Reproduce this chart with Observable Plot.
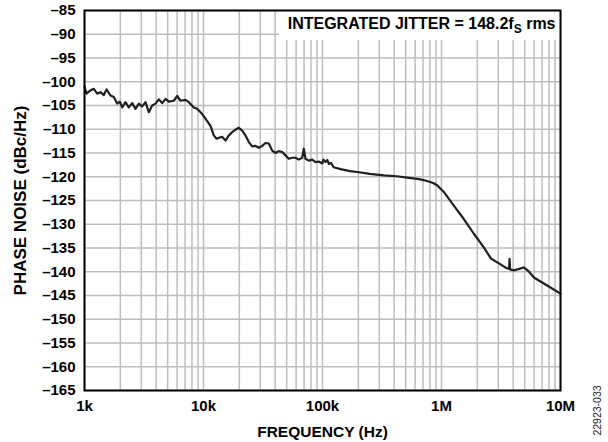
<!DOCTYPE html>
<html>
<head>
<meta charset="utf-8">
<script src="https://cdn.jsdelivr.net/npm/d3@7"></script>
<script src="https://cdn.jsdelivr.net/npm/@observablehq/plot@0.6"></script>
<style>
  html, body { margin: 0; padding: 0; background: #fff; }
</style>
</head>
<body>
<div id="chart"></div>
<script>
// ---- data ----
const freqHz = [
  1000, 1039, 1123, 1197, 1278, 1363, 1453, 1531, 1654, 1763,
  1883, 1980, 2074, 2211, 2357, 2517, 2683, 2860, 3054, 3255,
  3470, 3706, 3951, 4211, 4497, 4794, 5110, 5628, 6012, 6409,
  7061, 7522, 8287, 8855, 9752, 10740, 11450, 12210, 12860, 13450,
  14360, 15310, 16320, 17430, 18580, 19800, 21150, 22540, 24030, 25660,
  27350, 29150, 31130, 33190, 35380, 37780, 40270, 42940, 45850, 48870,
  52110, 55640, 59310, 63220, 67510, 69640, 71970, 76710, 81920, 87340,
  93090, 99400, 102000, 106000, 110000, 113000, 118000, 124000, 142000, 170000,
  196000, 250000, 328000, 420000, 515000, 650000, 758000, 850000, 920000, 1045000,
  1270000, 1540000, 1870000, 2260000, 2600000, 3160000, 3500000, 3700000, 3730000, 3770000,
  4050000, 4500000, 4920000, 5400000, 5970000, 7730000, 10000000
];
const phaseNoise = [
  -101.0, -102.5, -101.8, -101.5, -102.5, -102.2, -102.8, -101.6, -102.9, -103.2,
  -104.6, -104.2, -105.4, -104.3, -105.4, -104.5, -105.7, -104.6, -105.2, -104.3,
  -106.4, -105.0, -104.6, -103.7, -104.5, -103.6, -104.2, -104.0, -103.0, -104.0,
  -103.8, -104.3, -105.4, -105.7, -106.8, -108.3, -109.3, -111.3, -112.0, -111.8,
  -111.6, -112.4, -111.3, -110.6, -110.1, -109.7, -110.3, -111.3, -112.7, -113.6,
  -113.5, -113.9, -113.5, -112.9, -113.0, -114.5, -115.0, -114.6, -114.8, -115.5,
  -116.2, -116.0, -116.0, -116.4, -116.0, -114.1, -116.2, -116.6, -116.4, -116.9,
  -116.8, -117.2, -116.4, -116.9, -116.5, -117.3, -117.1, -118.0, -118.4, -118.8,
  -119.0, -119.4, -119.7, -119.9, -120.2, -120.5, -120.9, -121.3, -121.8, -123.2,
  -126.1, -128.9, -132.0, -134.8, -137.2, -138.5, -139.2, -139.4, -137.3, -139.5,
  -139.7, -139.4, -139.1, -139.9, -141.2, -142.9, -144.6
];

const xTickValues = [1e3, 1e4, 1e5, 1e6, 1e7];
const xTickLabels = ["1k", "10k", "100k", "1M", "10M"];
const yTickValues = [-85, -90, -95, -100, -105, -110, -115, -120, -125, -130, -135, -140, -145, -150, -155, -160, -165];
const yTickLabels = ["–85", "–90", "–95", "–100", "–105", "–110", "–115", "–120", "–125", "–130", "–135", "–140", "–145", "–150", "–155", "–160", "–165"];
const xGridValues = [
  1e3, 2e3, 3e3, 4e3, 5e3, 6e3, 7e3, 8e3, 9e3,
  1e4, 2e4, 3e4, 4e4, 5e4, 6e4, 7e4, 8e4, 9e4,
  1e5, 2e5, 3e5, 4e5, 5e5, 6e5, 7e5, 8e5, 9e5,
  1e6, 2e6, 3e6, 4e6, 5e6, 6e6, 7e6, 8e6, 9e6, 1e7
];

const xTitle = "FREQUENCY (Hz)";
const yTitle = "PHASE NOISE (dBc/Hz)";
const annotMain = "INTEGRATED JITTER = 148.2f";
const annotSub = "S";
const annotTail = " rms";
const figureId = "22923-033";
const annotBox = [{x1: 43500, x2: 1e7, y1: -91.3, y2: -85}];

const series = freqHz.map((f, i) => ({f, pn: phaseNoise[i]}));

const chart = Plot.plot({
  width: 608,
  height: 442,
  marginLeft: 84,
  marginRight: 48,
  marginTop: 10,
  marginBottom: 52,
  style: {
    fontFamily: "'Liberation Sans', Arial, Helvetica, sans-serif",
    fontSize: "15px",
    fontWeight: "bold",
    color: "#000",
    background: "#fff",
    overflow: "visible"
  },
  x: {type: "log", domain: [1e3, 1e7]},
  y: {domain: [-165, -85]},
  marks: [
    Plot.ruleX(xGridValues, {stroke: "#bdbdbd", strokeWidth: 1.5}),
    Plot.ruleY(yTickValues, {stroke: "#bdbdbd", strokeWidth: 1.5}),
    Plot.rect(annotBox, {x1: "x1", x2: "x2", y1: "y1", y2: "y2", fill: "#fff"}),
    Plot.line(series, {x: "f", y: "pn", stroke: "#231f20", strokeWidth: 2.2, strokeLinejoin: "round"}),
    Plot.frame({stroke: "#000", strokeWidth: 2}),
    Plot.axisX({
      ticks: xTickValues,
      tickFormat: d => xTickLabels[xTickValues.indexOf(d)],
      tickSize: 0, tickPadding: 10, label: null, fontSize: 15, fontWeight: "bold"
    }),
    Plot.axisY({
      ticks: yTickValues,
      tickFormat: d => yTickLabels[yTickValues.indexOf(d)],
      tickSize: 0, tickPadding: 9, label: null, fontSize: 15, fontWeight: "bold"
    }),
    Plot.text([xTitle], {frameAnchor: "bottom", dy: 42, textAnchor: "middle", lineAnchor: "middle", fontSize: 15.5, fontWeight: "bold"}),
    Plot.text([yTitle], {frameAnchor: "left", dx: -64, rotate: -90, textAnchor: "middle", lineAnchor: "middle", fontSize: 17, fontWeight: "bold"}),
    Plot.text([annotMain + annotSub + annotTail], {frameAnchor: "top-right", dx: -5, dy: 13, textAnchor: "end", lineAnchor: "middle", fontSize: 16, fontWeight: "bold"}),
    Plot.text([figureId], {frameAnchor: "bottom-right", dx: 37, dy: 20, rotate: -90, textAnchor: "middle", lineAnchor: "middle", fontSize: 10.5, fontWeight: "normal", fill: "#222"})
  ]
});

// subscript for the annotation
for (const t of chart.querySelectorAll("text")) {
  if (t.textContent === annotMain + annotSub + annotTail) {
    t.textContent = "";
    const ns = "http://www.w3.org/2000/svg";
    const a = document.createElementNS(ns, "tspan");
    a.textContent = annotMain;
    const b = document.createElementNS(ns, "tspan");
    b.textContent = annotSub;
    b.setAttribute("dy", "4");
    b.setAttribute("font-size", "12");
    const c = document.createElementNS(ns, "tspan");
    c.textContent = annotTail;
    c.setAttribute("dy", "-4");
    t.append(a, b, c);
  }
}

document.getElementById("chart").append(chart);
</script>
</body>
</html>
